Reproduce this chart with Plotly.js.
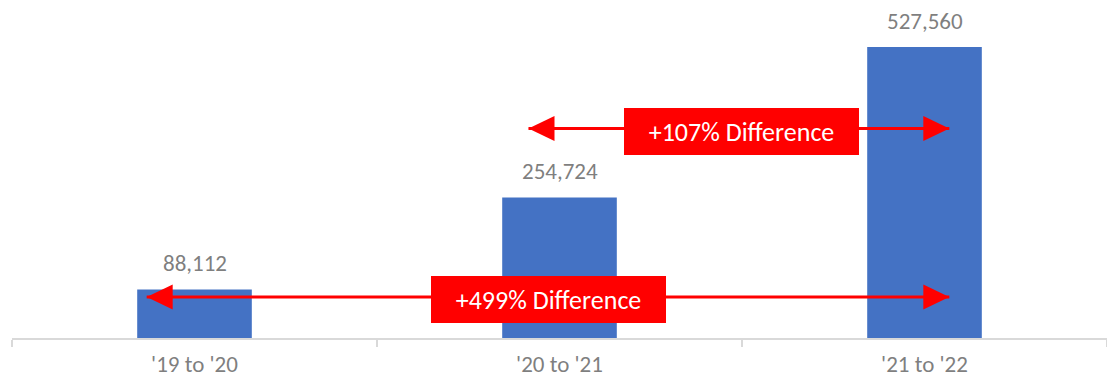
<!DOCTYPE html>
<html>
<head>
<meta charset="utf-8">
<script src="https://cdn.plot.ly/plotly-3.0.1.min.js"></script>
<style>
  html, body { margin: 0; padding: 0; background: #ffffff; }
  #chart { width: 1107px; height: 380px; }
</style>
</head>
<body>
<div id="chart"></div>
<script>
// Year-over-year totals
const periods = ["'19 to '20", "'20 to '21", "'21 to '22"];
const totals = [88112, 254724, 527560];

// Growth callouts
const growthLabels = ["+499% Difference", "+107% Difference"];

const FONT = "Carlito, Calibri, Lato, 'Open Sans', sans-serif";
const GREY = "#7f7f7f";
const BAR = "#4472c4";
const RED = "#ff0000";

const bars = {
  type: "bar",
  x: periods,
  y: totals,
  marker: { color: BAR },
  hoverinfo: "skip"
};

// Value labels above each bar
const valueNotes = periods.map((p, i) => ({
  x: p, y: totals[i], xref: "x", yref: "y",
  text: totals[i].toLocaleString("en-US"),
  showarrow: false, yanchor: "bottom", yshift: 10,
  font: { family: FONT, size: 23, color: GREY }
}));

// Double-headed arrows (category index units on x, value units on y)
const arrows = [
  { from: -0.131, to: 2.068, y: 74300, box: { x: 0.97, y: 70700 }, label: growthLabels[0] },
  { from: 0.915,  to: 2.068, y: 379800, box: { x: 1.499, y: 374400 }, label: growthLabels[1] }
];

const shapes = [];
const boxNotes = [];
arrows.forEach(a => {
  shapes.push({
    type: "line", xref: "x", yref: "y",
    x0: a.from, x1: a.to, y0: a.y, y1: a.y,
    line: { color: RED, width: 3 }
  });
  // left head
  shapes.push({
    type: "path", xref: "x", yref: "y",
    xsizemode: "pixel", ysizemode: "pixel",
    xanchor: a.from, yanchor: a.y,
    path: "M0,0 L26,12.5 L26,-12.5 Z",
    fillcolor: RED, line: { width: 0 }
  });
  // right head
  shapes.push({
    type: "path", xref: "x", yref: "y",
    xsizemode: "pixel", ysizemode: "pixel",
    xanchor: a.to, yanchor: a.y,
    path: "M0,0 L-26,12.5 L-26,-12.5 Z",
    fillcolor: RED, line: { width: 0 }
  });
  boxNotes.push({
    x: a.box.x, y: a.box.y, xref: "x", yref: "y",
    text: a.label, showarrow: false,
    bgcolor: RED, width: 235, height: 47,
    borderpad: 0, borderwidth: 0,
    xanchor: "center", yanchor: "middle",
    font: { family: FONT, size: 26, color: "#ffffff" }
  });
});

const layout = {
  width: 1107, height: 380,
  margin: { l: 12, r: 0, t: 0, b: 42 },
  paper_bgcolor: "#ffffff", plot_bgcolor: "#ffffff",
  showlegend: false,
  bargap: 0.686,
  xaxis: {
    type: "category",
    showline: true, linecolor: "#d9d9d9", linewidth: 2,
    ticks: "outside", tickson: "boundaries", ticklen: 7,
    tickcolor: "#d9d9d9", tickwidth: 1.5,
    ticklabelstandoff: 4,
    showgrid: false, zeroline: false,
    tickfont: { family: FONT, size: 23, color: GREY },
    fixedrange: true
  },
  yaxis: {
    range: [0, 612750],
    visible: false, showgrid: false, zeroline: false,
    fixedrange: true
  },
  shapes: shapes,
  annotations: valueNotes.concat(boxNotes)
};

Plotly.newPlot("chart", [bars], layout, { displayModeBar: false, staticPlot: true });
</script>
</body>
</html>
